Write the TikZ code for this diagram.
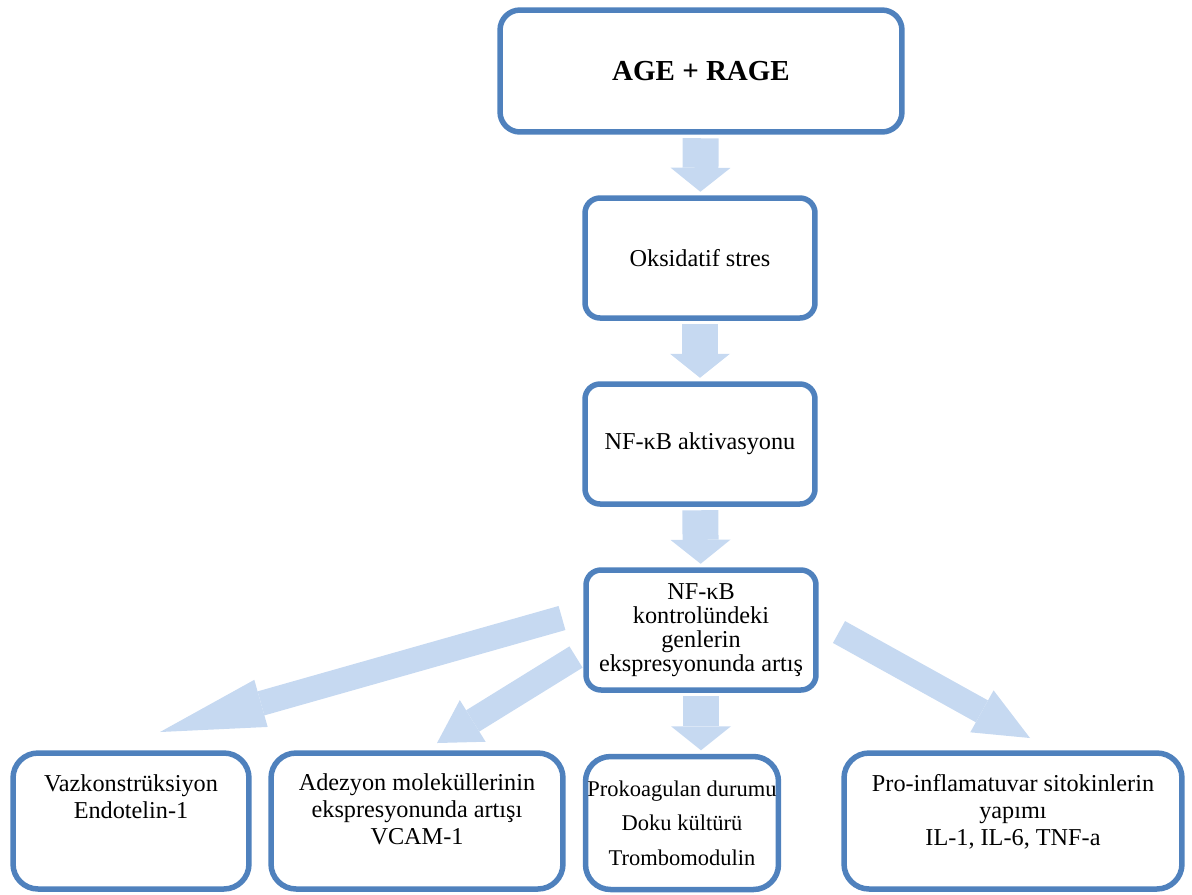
\documentclass[tikz,border=0pt]{standalone}
\usepackage{fontspec}
\setmainfont{Liberation Serif}
\usetikzlibrary{arrows.meta}
\definecolor{boxblue}{RGB}{79,129,189}
\definecolor{arrowblue}{RGB}{198,217,241}
% text set at the top of a tall box: width, height, first baseline, lines
\newcommand{\toptext}[4]{\parbox[c][#2][t]{#1}{\fontsize{13.8}{15.4}\selectfont\centering\rule{0pt}{#3}#4}}

\begin{document}
\begin{tikzpicture}[x=0.02cm,y=-0.02cm,
    box/.style={draw=boxblue,line width=0.11cm,rounded corners=0.3cm,align=center,
        minimum width=4.6cm,minimum height=2.4cm,font=\fontsize{13.8}{13.7}\selectfont},
    lowbox/.style={box,rounded corners=0.5cm,inner sep=0pt,minimum height=2.72cm},
    downarrow/.style={draw=arrowblue,line width=0.72cm,
        -{Triangle[length=0.48cm,width=1.2cm,line width=0pt]},
        shorten <=0.07cm,shorten >=0.07cm},
    slantarrow/.style={draw=arrowblue,line width=0.5cm}]
    \useasboundingbox (0,0) rectangle (1192,894);

    \node[box,rounded corners=0.4cm,minimum width=8.04cm,minimum height=2.44cm,
        font=\bfseries\fontsize{16.5}{18}\selectfont] (age) at (701,71) {AGE + RAGE};
    \node[box] (oks) at (700,258) {Oksidatif stres};
    \node[box] (akt) at (700,444) {NF-κB aktivasyonu};
    \node[box] (kontrol) at (701,630) {NF-κB\\kontrolündeki\\genlerin\\ekspresyonunda artış};

    \node[lowbox,minimum width=4.72cm] (vaz) at (131,821)
        {\toptext{4.72cm}{2.72cm}{0.76cm}{Vazkonstrüksiyon\\Endotelin-1}};
    \node[lowbox,minimum width=5.84cm] (adz) at (417,821)
        {\toptext{5.84cm}{2.72cm}{0.74cm}{Adezyon moleküllerinin\\ekspresyonunda artışı\\VCAM-1}};
    \node[lowbox,minimum width=3.86cm,minimum height=2.66cm] (prok) at (682,823)
        {\parbox[c][2.66cm][t]{3.86cm}{\fontsize{12.8}{19.6}\selectfont\centering
            \rule{0pt}{0.8cm}Prokoagulan durumu\\Doku kültürü\\Trombomodulin}};
    \node[lowbox,minimum width=6.76cm] (proinf) at (1013,821)
        {\toptext{6.76cm}{2.72cm}{0.76cm}{Pro-inflamatuvar sitokinlerin\\yapımı\\IL-1, IL-6, TNF-a}};

    \draw[downarrow] (age) -- (oks);
    \draw[downarrow] (oks) -- (akt);
    \draw[downarrow] (akt) -- (kontrol);
    \draw[downarrow] (kontrol) -- (kontrol |- prok.north);

    % slanted arrows start beside the middle box
    \coordinate (vazTail) at (562,618);
    \coordinate (vazTip) at (160,732);
    \coordinate (adzTail) at (576,657);
    \coordinate (adzTip) at (437,743);
    \coordinate (infTail) at (839,632);
    \coordinate (infTip) at (1030,738);
    \draw[slantarrow,-{Triangle[length=2.1cm,width=0.98cm,line width=0pt]}] (vazTail) -- (vazTip);
    \draw[slantarrow,-{Triangle[length=0.84cm,width=0.98cm,line width=0pt]}] (adzTail) -- (adzTip);
    \draw[slantarrow,-{Triangle[length=1.1cm,width=0.96cm,line width=0pt]}] (infTail) -- (infTip);
\end{tikzpicture}
\end{document}
